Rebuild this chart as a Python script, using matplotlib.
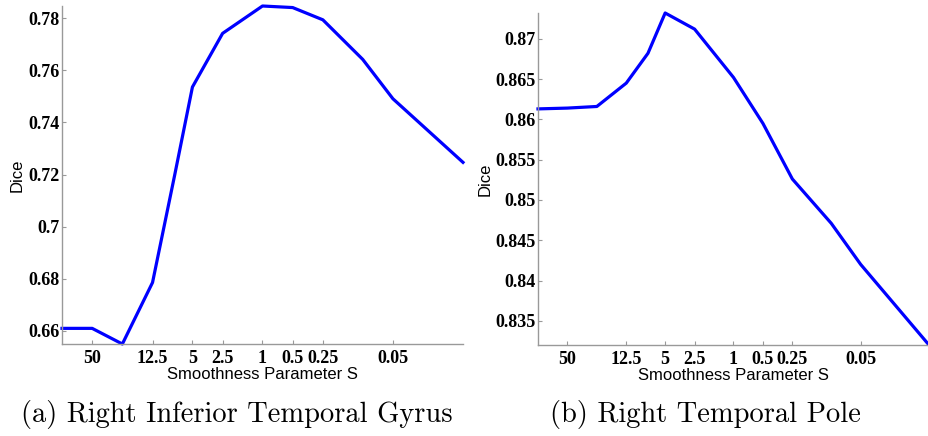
import matplotlib
matplotlib.use('Agg')
import matplotlib.pyplot as plt

# smoothness parameter values (x), shared by both panels
s_values = [100, 50, 25, 12.5, 7.5, 5, 2.5, 1, 0.5, 0.25, 0.1, 0.05, 0.01]

# Dice per panel
dice_itg = [0.661, 0.661, 0.655, 0.6786, 0.720, 0.7536, 0.7742, 0.7847,
            0.7841, 0.7794, 0.7642, 0.7491, 0.7247]
dice_tp = [0.8613, 0.8614, 0.8616, 0.8645, 0.8682, 0.8732, 0.8712, 0.8652,
           0.8595, 0.8526, 0.8471, 0.8420, 0.8320]

x_ticks = [50, 12.5, 5, 2.5, 1, 0.5, 0.25, 0.05]
x_tick_labels = ['50', '12.5', '5', '2.5', '1', '0.5', '0.25', '0.05']

y_ticks_itg = [0.66, 0.68, 0.70, 0.72, 0.74, 0.76, 0.78]
y_labels_itg = ['0.66', '0.68', '0.7', '0.72', '0.74', '0.76', '0.78']
y_ticks_tp = [0.835, 0.84, 0.845, 0.85, 0.855, 0.86, 0.865, 0.87]
y_labels_tp = ['0.835', '0.84', '0.845', '0.85', '0.855', '0.86', '0.865', '0.87']

captions = ['(a) Right Inferior Temporal Gyrus', '(b) Right Temporal Pole']

W, H = 929, 436
fig = plt.figure(figsize=(W / 100, H / 100), dpi=100)

def px_axes(left, top, right, bottom):
    return fig.add_axes([left / W, 1 - bottom / H, (right - left) / W, (bottom - top) / H])

axes = [px_axes(62, 6, 463, 344), px_axes(538, 13, 929, 345)]
series = [dice_itg, dice_tp]
yticks = [(y_ticks_itg, y_labels_itg), (y_ticks_tp, y_labels_tp)]
dice_x = [-0.092, -0.115]
cap_x = [237, 705]

tick_font = {'family': 'Liberation Serif', 'weight': 'bold', 'size': 13}
label_font = {'family': 'Liberation Sans', 'size': 12}

for i, ax in enumerate(axes):
    ax.plot(s_values, series[i], color='#0000ff', linewidth=2.3, clip_on=False)
    ax.set_xscale('log')
    ax.set_xlim(100, 0.01)
    ax.set_ylim(min(series[i]), max(series[i]))
    ax.minorticks_off()
    ax.set_xticks(x_ticks)
    ax.set_xticklabels(x_tick_labels, fontdict=tick_font)
    ax.set_yticks(yticks[i][0])
    ax.set_yticklabels(yticks[i][1], fontdict=tick_font)
    ax.tick_params(direction='in', length=3, width=0.8, color='#999999')
    ax.tick_params(axis='x', pad=4)
    ax.tick_params(axis='y', pad=1.5)
    for side in ['top', 'right']:
        ax.spines[side].set_visible(False)
    for side in ['left', 'bottom']:
        ax.spines[side].set_color('#999999')
        ax.spines[side].set_linewidth(1.0)
    ax.set_xlabel('Smoothness Parameter S', fontdict=label_font)
    ax.set_ylabel('Dice', fontdict=label_font)
    ax.xaxis.set_label_coords(0.5, -0.068)
    ax.yaxis.set_label_coords(dice_x[i], 0.5)
    fig.text(cap_x[i] / W, 1 - 422 / H, captions[i], family='cmr10', size=20.5,
             ha='center', va='baseline')

fig.savefig('out.png', dpi=100)
